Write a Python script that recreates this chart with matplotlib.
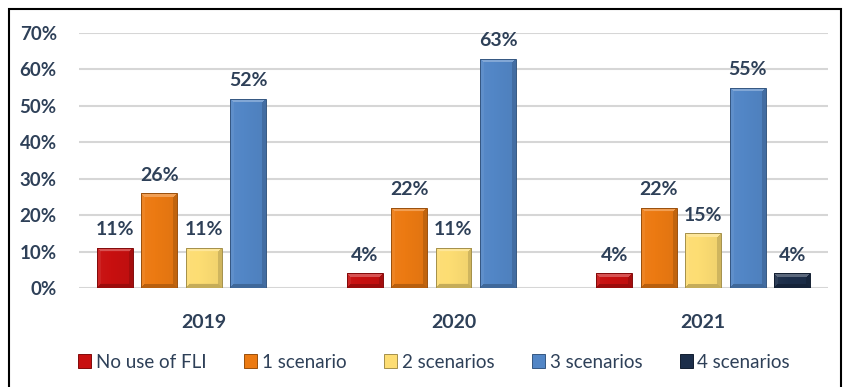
import numpy as np
import matplotlib
matplotlib.use("Agg")
import matplotlib.pyplot as plt
from matplotlib.colors import to_rgb
from matplotlib.patches import Rectangle, Patch

# ---- data -------------------------------------------------------------
years = ["2019", "2020", "2021"]
series_names = ["No use of FLI", "1 scenario", "2 scenarios", "3 scenarios", "4 scenarios"]
no_use = [11, 4, 4]
one_scen = [26, 22, 22]
two_scen = [11, 11, 15]
three_scen = [52, 63, 55]
four_scen = [None, None, 4]
y_ticks = [0, 10, 20, 30, 40, 50, 60, 70]

series_values = [no_use, one_scen, two_scen, three_scen, four_scen]
colors = ["#C81010", "#EC7A12", "#FDDD73", "#5286C6", "#1C2E4A"]
text_color = "#2E4058"

plt.rcParams["font.family"] = ["Lato", "DejaVu Sans"]

W, H, DPI = 843, 387, 100
fig = plt.figure(figsize=(W / DPI, H / DPI), dpi=DPI)
ax = fig.add_axes([79 / W, (H - 288) / H, (828 - 79) / W, (288 - 33) / H])

n_series = len(series_names)
slot = 0.178
bar_w = slot * 0.81
x = np.arange(len(years))

ax.set_xlim(-0.5, len(years) - 0.5)
ax.set_ylim(0, 70)
ax.set_yticks(y_ticks)
ax.set_yticklabels([f"{t}%" for t in y_ticks])
ax.yaxis.grid(True, color="#D6D6D6", linewidth=1.5)
ax.set_axisbelow(True)
for s in ax.spines.values():
    s.set_visible(False)
ax.tick_params(axis="y", length=0, pad=16, labelsize=13.5, labelcolor=text_color)
ax.tick_params(axis="x", length=0, pad=19, labelsize=14, labelcolor=text_color)
for lbl in ax.get_yticklabels():
    lbl.set_fontweight("bold")
ax.set_xticks(x)
ax.set_xticklabels(years, fontweight="bold")


def shade(rgb, f):
    rgb = np.asarray(rgb)
    if f >= 0:
        return rgb + (1 - rgb) * f
    return rgb * (1 + f)


def bevel_image(rgb, wpx, hpx, b=4):
    wpx = max(int(round(wpx)), 2)
    hpx = max(int(round(hpx)), 2)
    yy, xx = np.mgrid[0:hpx, 0:wpx]
    d_top = yy
    d_bot = hpx - 1 - yy
    d_left = xx
    d_right = wpx - 1 - xx
    base = np.asarray(rgb)
    # gentle horizontal gradient across the face
    t = xx / max(wpx - 1, 1)
    face = 0.03 - 0.08 * t
    img = np.empty((hpx, wpx, 3))
    img[:] = base
    img = img * (1 + np.minimum(face, 0))[..., None] + (1 - img) * np.maximum(face, 0)[..., None]
    dmin = np.minimum.reduce([d_top, d_bot, d_left, d_right])
    edge = dmin < b
    which = np.argmin(np.stack([d_top, d_bot, d_left, d_right]), axis=0)
    factors = [0.28, -0.22, 0.08, -0.18]
    for k, f in enumerate(factors):
        m = edge & (which == k)
        img[m] = shade(base, f)
    return np.clip(img, 0, 1)


fig.canvas.draw()
to_px = ax.transData

for i, (name, vals, col) in enumerate(zip(series_names, series_values, colors)):
    offs = (i - (n_series - 1) / 2) * slot
    rgb = to_rgb(col)
    for xi, v in zip(x, vals):
        if v is None:
            continue
        x0 = xi + offs - bar_w / 2
        rect = Rectangle((x0, 0), bar_w, v, facecolor=col,
                         edgecolor="none", zorder=2)
        ax.add_patch(rect)
        p0 = to_px.transform((x0, 0))
        p1 = to_px.transform((x0 + bar_w, v))
        img = bevel_image(rgb, p1[0] - p0[0], p1[1] - p0[1])
        im = ax.imshow(img, extent=(x0, x0 + bar_w, 0, v), aspect="auto",
                       interpolation="bilinear", zorder=3, origin="upper")
        im.set_clip_path(rect)
        ax.add_patch(Rectangle((x0, 0), bar_w, v, facecolor="none",
                               edgecolor=shade(rgb, -0.35), linewidth=0.7, zorder=4))
        ax.annotate(f"{v}%", (xi + offs, v), xytext=(0, 7), textcoords="offset points",
                    ha="center", va="bottom", fontsize=14, fontweight="bold",
                    color=text_color, zorder=5)

ax.set_xlim(-0.5, len(years) - 0.5)
ax.set_ylim(0, 70)

handles = [Patch(facecolor=c, edgecolor=shade(to_rgb(c), -0.35), linewidth=0.7)
           for c in colors]
fig.legend(handles, series_names, loc="center", bbox_to_anchor=(434 / W, (H - 362) / H),
           ncol=5, frameon=False, fontsize=13.5, labelcolor=text_color,
           handlelength=0.7, handleheight=0.7, handletextpad=0.25, columnspacing=2.0)

# outer frame
fig.add_artist(Rectangle((9 / W, -0.05), (841 - 9) / W, (H - 9) / H + 0.05,
                         transform=fig.transFigure, facecolor="none",
                         edgecolor="black", linewidth=1.5))

fig.savefig("out.png", dpi=DPI)
